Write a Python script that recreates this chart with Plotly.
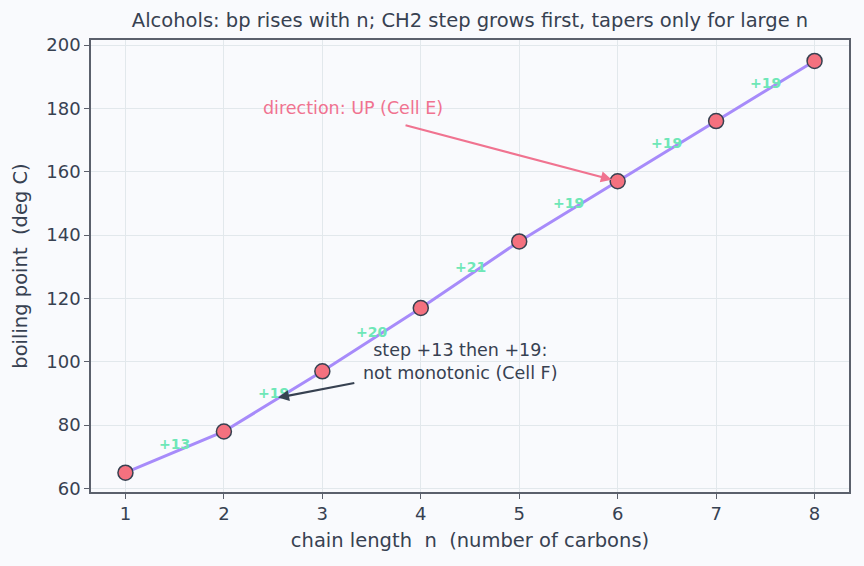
import plotly.graph_objects as go

n_carbons = [1, 2, 3, 4, 5, 6, 7, 8]
boiling_point = [65, 78, 97, 117, 138, 157, 176, 195]
step_labels = ["+13", "+19", "+20", "+21", "+19", "+19", "+19"]
x_ticks = [1, 2, 3, 4, 5, 6, 7, 8]
y_ticks = [60, 80, 100, 120, 140, 160, 180, 200]

FONT = "DejaVu Sans"
DARK = "#374151"
FRAME = "#5b606c"
GRID = "#e2e8ec"
BG = "#f9fafd"
LINE = "#a78bfa"
MARK = "#f4717f"
PINK = "#f07390"
MINT = "#6ee7b7"

fig = go.Figure()
fig.add_trace(go.Scatter(
    x=n_carbons, y=boiling_point, mode="lines+markers",
    line=dict(color=LINE, width=3),
    marker=dict(size=15, color=MARK, line=dict(color=DARK, width=1.5)),
    hoverinfo="skip", showlegend=False,
))

annotations = []
for i, lab in enumerate(step_labels):
    xm = (n_carbons[i] + n_carbons[i + 1]) / 2
    ym = (boiling_point[i] + boiling_point[i + 1]) / 2
    annotations.append(dict(
        x=xm, y=ym, xref="x", yref="y", text="<b>%s</b>" % lab,
        showarrow=False, yshift=8, xshift=0,
        font=dict(family=FONT, size=14, color=MINT),
    ))

# direction annotation
annotations.append(dict(
    x=3.31, y=180.1, xref="x", yref="y", text="direction: UP (Cell E)",
    showarrow=False, font=dict(family=FONT, size=17.5, color=PINK),
))
annotations.append(dict(
    x=n_carbons[5], y=boiling_point[5], xref="x", yref="y", text="",
    showarrow=True, ax=3.83, ay=174.8, axref="x", ayref="y",
    arrowhead=2, arrowsize=1, arrowwidth=2.2, arrowcolor=PINK, standoff=6,
))
# not monotonic annotation
annotations.append(dict(
    x=4.40, y=100.0, xref="x", yref="y",
    text="step +13 then +19:<br>not monotonic (Cell F)",
    showarrow=False, align="center",
    font=dict(family=FONT, size=17.5, color=DARK),
))
annotations.append(dict(
    x=2.55, y=88.7, xref="x", yref="y", text="",
    showarrow=True, ax=3.34, ay=93.4, axref="x", ayref="y",
    arrowhead=2, arrowsize=1, arrowwidth=2.2, arrowcolor=DARK, standoff=0,
))

fig.update_layout(
    width=864, height=566,
    margin=dict(l=91, r=15, t=40, b=74),
    paper_bgcolor=BG, plot_bgcolor=BG,
    font=dict(family=FONT, color=DARK),
    title=dict(
        text="Alcohols: bp rises with n; CH2 step grows first, tapers only for large n",
        x=0.544, xanchor="center", y=0.965, yanchor="middle",
        font=dict(family=FONT, size=19.5, color=DARK),
    ),
    annotations=annotations,
)
fig.update_xaxes(
    range=[0.65, 8.35], tickvals=x_ticks, ticktext=[str(v) for v in x_ticks],
    showgrid=True, gridcolor=GRID, gridwidth=1, zeroline=False,
    showline=True, mirror=True, linecolor=FRAME, linewidth=1.6,
    ticks="outside", ticklen=5, tickcolor=FRAME, tickwidth=1.3,
    tickfont=dict(family=FONT, size=18, color=DARK),
    title=dict(text="chain length  n  (number of carbons)",
               font=dict(family=FONT, size=19.5, color=DARK), standoff=10),
)
fig.update_yaxes(
    range=[58.9, 201.6], tickvals=y_ticks, ticktext=[str(v) for v in y_ticks],
    showgrid=True, gridcolor=GRID, gridwidth=1, zeroline=False,
    showline=True, mirror=True, linecolor=FRAME, linewidth=1.6,
    ticks="outside", ticklen=5, tickcolor=FRAME, tickwidth=1.3,
    tickfont=dict(family=FONT, size=18, color=DARK),
    title=dict(text="boiling point  (deg C)",
               font=dict(family=FONT, size=19.5, color=DARK), standoff=13),
)

fig.write_html("out.html")
